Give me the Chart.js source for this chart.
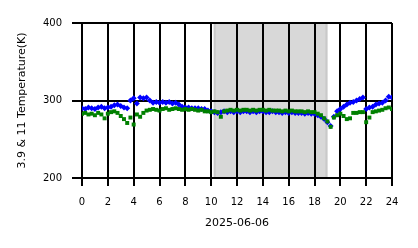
<!DOCTYPE html>
<html>
<head>
<meta charset="utf-8">
<script src="https://cdn.jsdelivr.net/npm/chart.js@4"></script>
<style>
  html, body { margin: 0; padding: 0; background: #fff; }
  canvas { display: block; }
</style>
</head>
<body>
<canvas id="chartTemp" width="418" height="248"></canvas>
<script>
/* ---------- datos ---------- */
// hora del día (UTC) de cada muestra, cada 15 min
const hours = [
  0, 0.25, 0.5, 0.75, 1, 1.25, 1.5, 1.75, 2, 2.25, 2.5, 2.75,
  3, 3.25, 3.5, 3.75, 4, 4.25, 4.5, 4.75, 5, 5.25, 5.5, 5.75,
  6, 6.25, 6.5, 6.75, 7, 7.25, 7.5, 7.75, 8, 8.25, 8.5, 8.75,
  9, 9.25, 9.5, 9.75, 10, 10.25, 10.5, 10.75, 11, 11.25, 11.5, 11.75,
  12, 12.25, 12.5, 12.75, 13, 13.25, 13.5, 13.75, 14, 14.25, 14.5, 14.75,
  15, 15.25, 15.5, 15.75, 16, 16.25, 16.5, 16.75, 17, 17.25, 17.5, 17.75,
  18, 18.25, 18.5, 18.75, 19, 19.25, 19.5, 19.75, 20, 20.25, 20.5, 20.75,
  21, 21.25, 21.5, 21.75, 22, 22.25, 22.5, 22.75, 23, 23.25, 23.5, 23.75, 24
];

// temperatura de brillo canal 3.9 µm (azul)
const temp39 = [
  290, 289, 291, 290, 289, 291, 292, 290, 291, 292, 294, 295,
  293, 291, 290, 300, 303, 296, 304, 303, 304, 300, 297, 298,
  297, 298, 297, 298, 296, 297, 295, 292, 291, 291, 290, 290,
  290, 289, 289, 287, 286, 285, 284, 285, 286, 285, 286, 285,
  286, 285, 286, 286, 285, 286, 285, 286, 286, 285, 285, 286,
  285, 285, 284, 285, 284, 285, 284, 284, 284, 283, 284, 283,
  283, 281, 279, 276, 272, 267, 279, 286, 289, 292, 295, 297,
  298, 300, 302, 304, 289, 291, 292, 295, 296, 297, 300, 305, 304
];

// temperatura de brillo canal 11 µm (verde)
const temp11 = [
  283, 284, 282, 283, 281, 284, 282, 277, 283, 285, 286, 284,
  280, 276, 271, 278, 269, 282, 279, 284, 287, 288, 289, 288,
  287, 289, 290, 288, 289, 290, 289, 288, 289, 288, 289, 288,
  287, 288, 286, 286, 285, 286, 285, 279, 286, 287, 288, 287,
  288, 287, 288, 288, 287, 288, 287, 288, 288, 287, 288, 287,
  287, 287, 286, 287, 286, 287, 286, 286, 286, 285, 286, 285,
  285, 283, 281, 277, 273, 266, 278, 281, 283, 280, 276, 277,
  284, 284, 285, 285, 272, 278, 285, 286, 287, 288, 290, 291, 289
];

// periodo nocturno sombreado (horas)
const nightStart = 10.2;
const nightEnd = 19.0;

const xTicks = [0, 2, 4, 6, 8, 10, 12, 14, 16, 18, 20, 22, 24];
const yTicks = [200, 300, 400];
const dateLabel = '2025-06-06';
const yTitle = '3.9 & 11 Temperature(K)';

/* ---------- sombreado ---------- */
const sombraNoche = {
  id: 'sombraNoche',
  beforeDraw(chart) {
    const { ctx, chartArea, scales: { x } } = chart;
    const x0 = x.getPixelForValue(nightStart);
    const x1 = x.getPixelForValue(nightEnd);
    ctx.save();
    ctx.fillStyle = '#d8d8d8';
    ctx.fillRect(x0, chartArea.top, x1 - x0, chartArea.bottom - chartArea.top);
    ctx.fillStyle = '#c9c9c9';
    ctx.fillRect(x0, chartArea.top, 2, chartArea.bottom - chartArea.top);
    ctx.fillRect(x1 - 2, chartArea.top, 2, chartArea.bottom - chartArea.top);
    ctx.restore();
  }
};

const toXY = arr => arr.map((v, i) => ({ x: hours[i], y: v }));
const fuente = { family: 'DejaVu Sans', size: 10 };
const fuenteTitulo = { family: 'DejaVu Sans', size: 11 };

new Chart(document.getElementById('chartTemp'), {
  type: 'scatter',
  data: {
    datasets: [
      {
        label: '3.9',
        data: toXY(temp39),
        backgroundColor: '#0000ff',
        pointStyle: 'rectRot',
        pointRadius: 3,
        pointBorderWidth: 0,
        order: 2
      },
      {
        label: '11',
        data: toXY(temp11),
        backgroundColor: '#008000',
        pointStyle: 'rect',
        pointRadius: 2.8,
        pointBorderWidth: 0,
        order: 1
      }
    ]
  },
  options: {
    responsive: false,
    animation: false,
    devicePixelRatio: 1,
    layout: { padding: { top: 23, right: 26, left: 0, bottom: 0 } },
    plugins: { legend: { display: false }, tooltip: { enabled: false } },
    scales: {
      x: {
        type: 'linear',
        min: 0,
        max: 24,
        afterFit: s => { s.height = 70; },
        afterBuildTicks: s => { s.ticks = xTicks.map(v => ({ value: v })); },
        grid: { color: '#000', lineWidth: 2, tickLength: 8, drawTicks: true },
        border: { display: true, color: '#000', width: 2 },
        ticks: { color: '#000', font: fuente, padding: 10, maxRotation: 0 },
        title: { display: true, text: dateLabel, color: '#000', font: fuenteTitulo, padding: { top: 4, bottom: 18 } }
      },
      y: {
        min: 200,
        max: 400,
        afterFit: s => { s.width = 82; },
        afterBuildTicks: s => { s.ticks = yTicks.map(v => ({ value: v })); },
        grid: { color: '#000', lineWidth: 2, tickLength: 10, drawTicks: true },
        border: { display: true, color: '#000', width: 2 },
        ticks: { color: '#000', font: fuente, padding: 10 },
        title: { display: true, text: yTitle, color: '#000', font: fuenteTitulo, padding: { top: 16, bottom: 0 } }
      }
    }
  },
  plugins: [sombraNoche]
});
</script>
</body>
</html>
